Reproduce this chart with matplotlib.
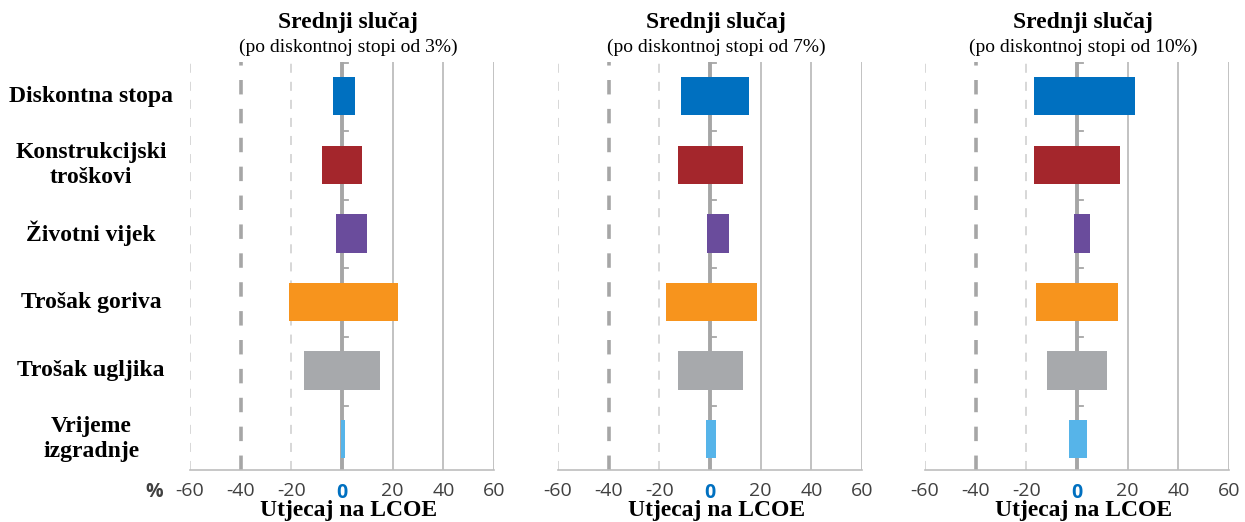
import numpy as np
import matplotlib.pyplot as plt

categories = ['Diskontna stopa', 'Konstrukcijski\ntroškovi', 'Životni vijek',
              'Trošak goriva', 'Trošak ugljika', 'Vrijeme\nizgradnje']
colors = ['#0070C0', '#A4262C', '#6A4C9C', '#F7941D', '#A7A9AC', '#56B4E9']

subtitles = ['(po diskontnoj stopi od 3%)', '(po diskontnoj stopi od 7%)',
             '(po diskontnoj stopi od 10%)']

# low / high impact on LCOE (%) per panel
low_3 = [-3.5, -8, -2.5, -21, -15, -0.5]
high_3 = [5, 8, 10, 22, 15, 1]
low_7 = [-11.5, -12.5, -1, -17.5, -12.5, -1.5]
high_7 = [15.5, 13, 7.5, 18.5, 13, 2.5]
low_10 = [-17, -17, -1, -16, -12, -3]
high_10 = [23, 17, 5, 16, 12, 4]

lows = [low_3, low_7, low_10]
highs = [high_3, high_7, high_10]

ticks = [-60, -40, -20, 0, 20, 40, 60]

fig = plt.figure(figsize=(12.45, 5.22), dpi=100)
lefts = [190 / 1245, 558 / 1245, 925 / 1245]
width = 304 / 1245
bottom = 1 - 470 / 522
height = 408 / 522

serif = ['Liberation Serif', 'DejaVu Serif']
sans = ['Open Sans', 'DejaVu Sans']
y = np.arange(len(categories))

for i in range(3):
    ax = fig.add_axes([lefts[i], bottom, width, height])
    ax.set_xlim(-60, 60)
    ax.set_ylim(5.45, -0.5)

    # grid lines
    for t in [-60, -20]:
        ax.axvline(t, color='#D4D4D4', lw=1.3, ls=(0, (5, 5)), zorder=0)
    ax.axvline(-40, color='#A6A6A6', lw=2.6, ls=(0, (4, 4)), zorder=0)
    for t in [20, 40, 60]:
        ax.axvline(t, color='#BDBDBD', lw=1.3, zorder=0)
    ax.axvline(0, color='#A6A6A6', lw=2.8, zorder=1)
    # small ticks on the zero line between categories
    for b in np.arange(-0.5, 5.0, 1.0):
        ax.plot([0, 2.2], [b + 0.01, b + 0.01], color='#A6A6A6', lw=1.3, zorder=1)

    lo = np.array(lows[i])
    hi = np.array(highs[i])
    ax.barh(y, hi - lo, left=lo, height=0.56, color=colors, zorder=2)

    for s in ['top', 'left', 'right']:
        ax.spines[s].set_visible(False)
    ax.spines['bottom'].set_color('#BDBDBD')
    ax.spines['bottom'].set_linewidth(1.2)
    ax.set_yticks([])
    ax.set_xticks(ticks)
    ax.set_xticklabels([str(t) for t in ticks], fontsize=14, color='#404040',
                       family=sans)
    ax.tick_params(axis='x', length=0, pad=9)
    zl = ax.get_xticklabels()[3]
    zl.set_color('#0070C0')
    zl.set_fontweight('bold')

    ax.text(0.52, 1.098, 'Srednji slučaj', transform=ax.transAxes, ha='center',
            va='center', fontsize=17, fontweight='bold', family=serif)
    ax.text(0.52, 1.036, subtitles[i], transform=ax.transAxes, ha='center',
            va='center', fontsize=14, family=serif)
    ax.text(0.52, -0.1, 'Utjecaj na LCOE', transform=ax.transAxes, ha='center',
            va='center', fontsize=17, fontweight='bold', family=serif)

    if i == 0:
        for k, c in enumerate(categories):
            ax.text(-99, k, c, ha='center', va='center', fontsize=17,
                    fontweight='bold', family=serif, linespacing=1.25,
                    clip_on=False)
        ax.text(-74, -0.055, '%', transform=ax.get_xaxis_transform(), ha='center',
                va='center', fontsize=14, fontweight='bold', color='#404040',
                family=sans)

fig.savefig('out.png', dpi=100)
